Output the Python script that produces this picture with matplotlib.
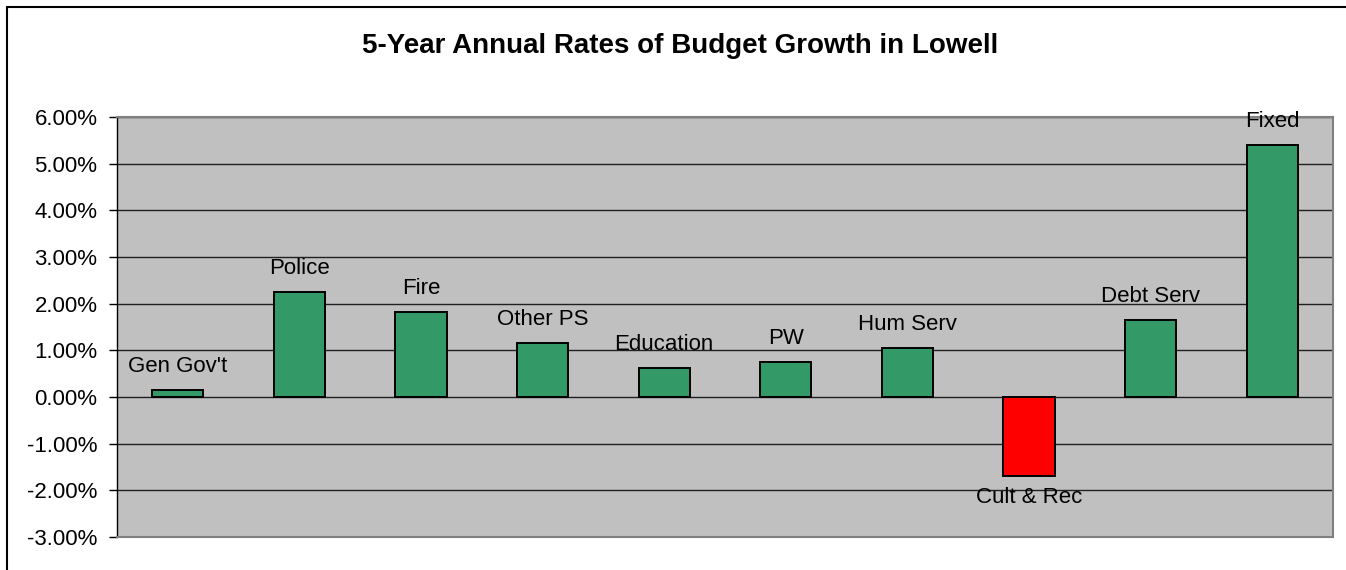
import matplotlib.pyplot as plt
import numpy as np
from matplotlib.patches import Rectangle
from matplotlib.ticker import FuncFormatter

plt.rcParams['font.family'] = ['Liberation Sans', 'DejaVu Sans']

categories = ['Gen Gov\'t', 'Police', 'Fire', 'Other PS', 'Education',
              'PW', 'Hum Serv', 'Cult & Rec', 'Debt Serv', 'Fixed']
growth = [0.14, 2.24, 1.82, 1.16, 0.63, 0.74, 1.04, -1.69, 1.64, 5.39]
y_ticks = [-3, -2, -1, 0, 1, 2, 3, 4, 5, 6]

green = '#339966'
red = '#FF0000'

fig = plt.figure(figsize=(13.46, 5.70), dpi=100)
ax = fig.add_axes([117 / 1346, 33 / 570, 1216 / 1346, 420 / 570])

# outer frame of the chart
fig.patches.append(Rectangle((7 / 1346, -0.05), 1.2, 1 - 7 / 570 + 0.05,
                             transform=fig.transFigure, fill=False,
                             edgecolor='black', linewidth=1.5))

x = np.arange(len(categories))
colors = [red if v < 0 else green for v in growth]
ax.bar(x, growth, width=0.42, color=colors, edgecolor='black', linewidth=1.4, zorder=3)

for xi, v, name in zip(x, growth, categories):
    if v >= 0:
        ax.annotate(name, (xi, v), xytext=(0, 13), textcoords='offset pixels',
                    ha='center', va='bottom', fontsize=16, zorder=4)
    else:
        ax.annotate(name, (xi, v), xytext=(0, -11), textcoords='offset pixels',
                    ha='center', va='top', fontsize=16, zorder=4)

ax.set_xlim(-0.5, len(categories) - 0.5)
ax.set_ylim(-3, 6)
ax.set_yticks(y_ticks)
ax.yaxis.set_major_formatter(FuncFormatter(lambda v, p: f'{v:.2f}%'))
ax.set_xticks([])
ax.tick_params(axis='y', labelsize=16, length=6, width=1, pad=8, color='black')

ax.set_facecolor('#C0C0C0')
ax.grid(axis='y', color='#202020', linewidth=1, zorder=1)
ax.set_axisbelow(True)
for side in ['top', 'right', 'bottom']:
    ax.spines[side].set_color('#808080')
    ax.spines[side].set_linewidth(1.5)
ax.spines['left'].set_color('black')
ax.spines['left'].set_linewidth(1)

fig.text(680 / 1346, 1 - 46 / 570, '5-Year Annual Rates of Budget Growth in Lowell',
         ha='center', va='center', fontsize=20, fontweight='bold')

fig.savefig('out.png', dpi=100, facecolor='white')
